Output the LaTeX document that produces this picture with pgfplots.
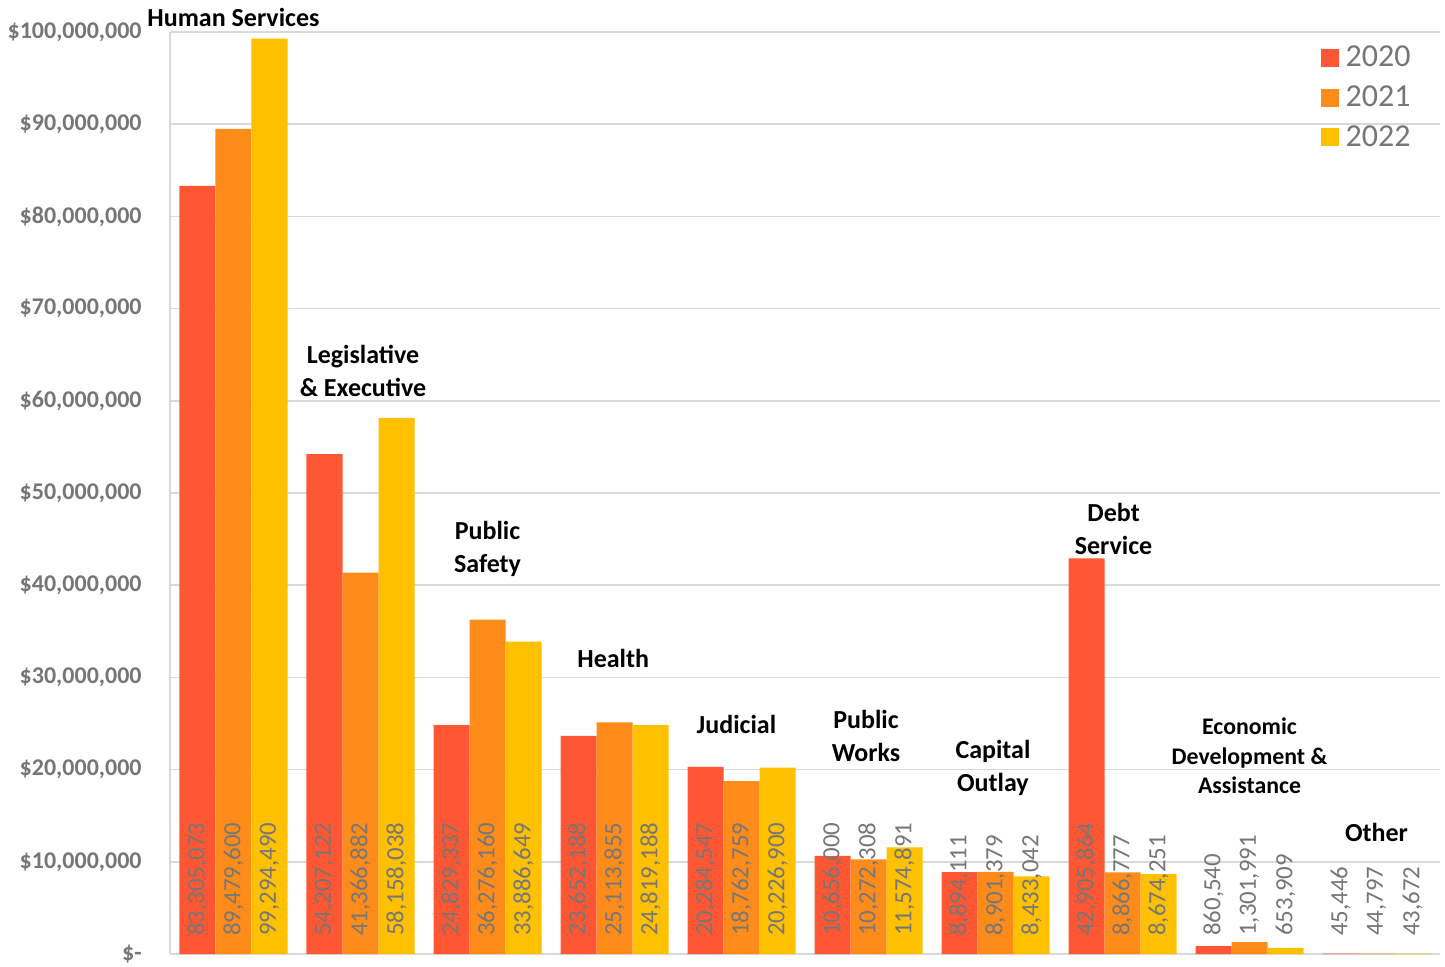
\documentclass[border=0pt]{standalone}
\usepackage{pgfplots}
\pgfplotsset{compat=1.18}
\usepackage{pgfplotstable}
\usepackage{fontspec}
\setmainfont{Carlito}
\definecolor{c20}{RGB}{255,87,51}
\definecolor{c21}{RGB}{255,140,26}
\definecolor{c22}{RGB}{255,192,0}
\definecolor{txtgray}{RGB}{118,118,118}
\definecolor{gridgray}{RGB}{217,217,217}

\pgfplotstableread{
x y lab
0 83305073 83,305,073
1 54207122 54,207,122
2 24829337 24,829,337
3 23652188 23,652,188
4 20284547 20,284,547
5 10656000 10,656,000
6 8894111 8,894,111
7 42905864 42,905,864
8 860540 860,540
9 45446 45,446
}\dataA
\pgfplotstableread{
x y lab
0 89479600 89,479,600
1 41366882 41,366,882
2 36276160 36,276,160
3 25113855 25,113,855
4 18762759 18,762,759
5 10272308 10,272,308
6 8901379 8,901,379
7 8866777 8,866,777
8 1301991 1,301,991
9 44797 44,797
}\dataB
\pgfplotstableread{
x y lab
0 99294490 99,294,490
1 58158038 58,158,038
2 33886649 33,886,649
3 24819188 24,819,188
4 20226900 20,226,900
5 11574891 11,574,891
6 8433042 8,433,042
7 8674251 8,674,251
8 653909 653,909
9 43672 43,672
}\dataC

\pgfplotsset{
  mybar/.style={ybar, bar width=18pt, draw=none, bar shift=#1,
    legend image code/.code={\fill[##1] (0pt,-4.5pt) rectangle (9pt,4.5pt); \path (10.5pt,0pt);},
    nodes near coords, point meta=explicit symbolic,
    visualization depends on={rawy \as \rawy},
    nodes near coords style={shift={(axis direction cs:0,-\rawy)}, xshift=#1, rotate=90, anchor=west,
      font=\fontsize{12.4}{12.4}\selectfont, text=txtgray, inner sep=0pt, xshift=9pt}},
}
\tikzset{catlab/.style={font=\fontsize{13}{16.5}\selectfont\bfseries, text=black, align=center, anchor=center}}

\begin{document}
\begin{tikzpicture}
\begin{axis}[
  at={(0,0)}, anchor=south west,
  scale only axis, width=635pt, height=461pt,
  xmin=-0.5, xmax=9.5, ymin=0, ymax=100000000,
  xtick=\empty,
  ytick={0,10000000,20000000,30000000,40000000,50000000,60000000,70000000,80000000,90000000,100000000},
  yticklabels={{\$-},{\$10,000,000},{\$20,000,000},{\$30,000,000},{\$40,000,000},{\$50,000,000},{\$60,000,000},{\$70,000,000},{\$80,000,000},{\$90,000,000},{\$100,000,000}},
  scaled y ticks=false,
  ymajorgrids, grid style={gridgray, line width=0.75pt},
  axis line style={gridgray, line width=1pt},
  axis x line*=bottom, axis y line*=left,
  major tick length=0pt,
  yticklabel style={font=\fontsize{12}{13}\selectfont\bfseries, text=txtgray, inner sep=0pt, xshift=-14pt},
  clip=false,
  legend style={draw=none, fill=none, at={(rel axis cs:0.985,0.994)}, anchor=north east,
    font=\fontsize{16}{18}\selectfont, text=txtgray, row sep=4pt},
  legend cell align=left,
]
\addplot[mybar=-18pt, fill=c20] table[x=x, y=y, meta=lab] {\dataA};
\addlegendentry{2020}
\addplot[mybar=0pt, fill=c21] table[x=x, y=y, meta=lab] {\dataB};
\addlegendentry{2021}
\addplot[mybar=18pt, fill=c22] table[x=x, y=y, meta=lab] {\dataC};
\addlegendentry{2022}

\node[catlab] at (axis cs:0,101600000) {Human Services};
\node[catlab] at (axis cs:1.02,63200000) {Legislative\\\& Executive};
\node[catlab] at (axis cs:2.0,43900000) {Public\\Safety};
\node[catlab] at (axis cs:2.99,32000000) {Health};
\node[catlab] at (axis cs:3.96,24900000) {Judicial};
\node[catlab] at (axis cs:4.98,23600000) {Public\\Works};
\node[catlab] at (axis cs:5.98,20200000) {Capital\\Outlay};
\node[catlab] at (axis cs:6.93,46100000) {Debt\\Service};
\node[catlab, font=\fontsize{11.9}{14.75}\selectfont\bfseries] at (axis cs:8.0,21500000) {Economic\\Development \&\\Assistance};
\node[catlab] at (axis cs:9.0,13200000) {Other};
\end{axis}
\pgfresetboundingbox
\path[use as bounding box] (-85pt,-6pt) rectangle (637.5pt,477pt);
\end{tikzpicture}
\end{document}
